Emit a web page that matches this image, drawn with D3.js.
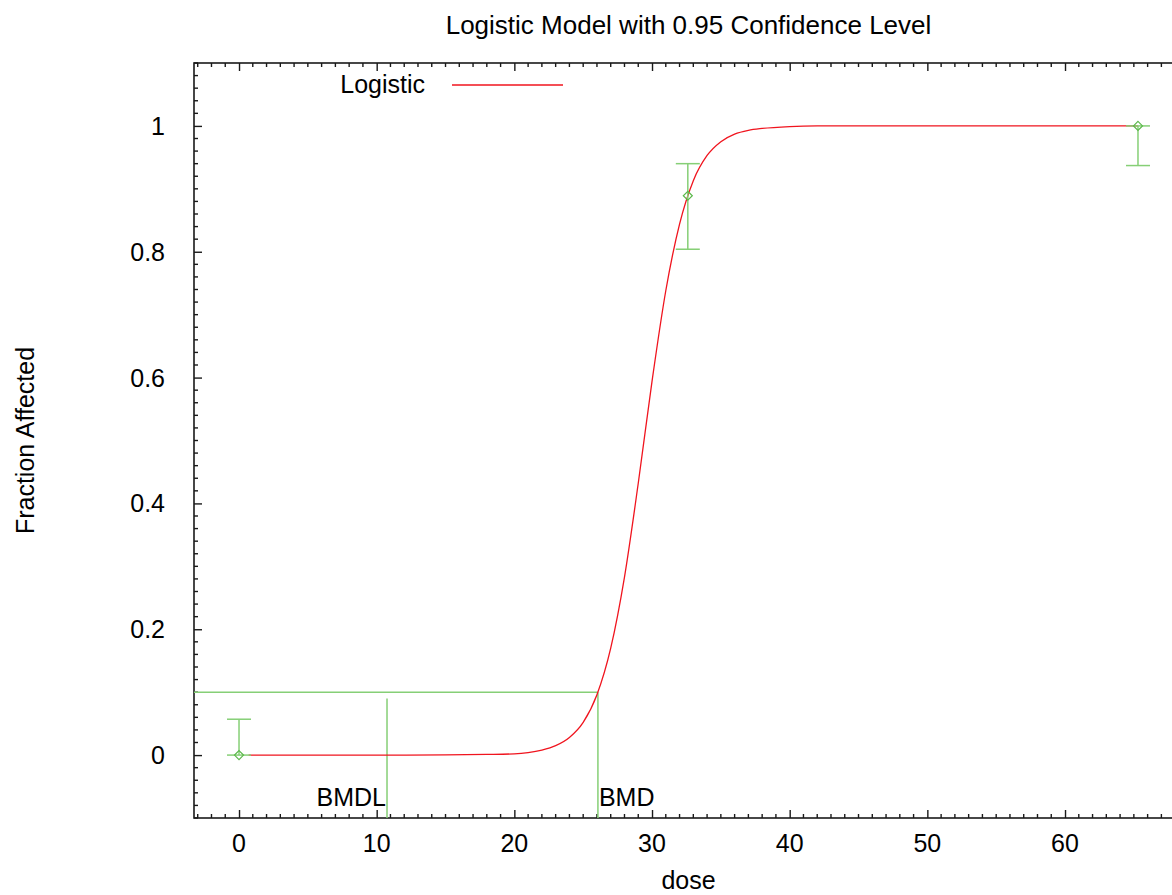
<!DOCTYPE html>
<html>
<head>
<meta charset="utf-8">
<script src="https://cdn.jsdelivr.net/npm/d3@7"></script>
<style>
  body { margin: 0; background: #fff; }
  svg { font-family: "Liberation Sans", Arial, sans-serif; }
</style>
</head>
<body>
<svg id="chart" width="1172" height="895"></svg>
<script>
const width = 1172;
const height = 895;

// observed doses, fractions and their confidence limits
const doses = [0, 32.6, 65.3];
const fractions = [0, 0.889, 1.0];
const lowerLimits = [0, 0.804, 0.937];
const upperLimits = [0.057, 0.940, 1.0];

// fitted logistic curve
const curveDose = [0.7, 5, 10, 15, 18, 20, 21, 22, 23, 24, 25, 26, 27, 28, 29, 30, 31, 32, 33, 34, 35, 36, 37, 38, 40, 42, 45, 50, 60, 65.3];
const curveFrac = [0, 0, 0, 0.0003, 0.001, 0.002, 0.004, 0.008, 0.015, 0.028, 0.052, 0.096, 0.17, 0.283, 0.432, 0.594, 0.738, 0.844, 0.913, 0.953, 0.975, 0.987, 0.993, 0.996, 0.999, 1, 1, 1, 1, 1];

const bmd = 26.07;
const bmdl = 10.75;
const bmr = 0.1;
const bmdlTop = 0.09;

const xTicks = [0, 10, 20, 30, 40, 50, 60];
const yTicks = [0, 0.2, 0.4, 0.6, 0.8, 1];

const plotLeft = 194, plotRight = 1183, plotTop = 63, plotBottom = 818;
const fontSize = 25;

const svg = d3.select('#chart');

const x = d3.scaleLinear()
  .domain([-3.27, 68.57])
  .range([plotLeft, plotRight]);

const y = d3.scaleLinear()
  .domain([-0.1, 1.1])
  .range([plotBottom, plotTop]);

const axisColor = '#1a1a1a';
const green = '#86cf76';
const red = '#f0141e';

// Minor ticks
const xMinor = d3.range(-3, 69, 1).filter(d => d % 10 !== 0);
const yMinor = d3.range(-0.1, 1.1001, 0.02).map(d => +d.toFixed(2)).filter(d => Math.abs(d * 5 - Math.round(d * 5)) > 1e-6);

const bottomAxis = d3.axisTop(x).tickValues(xTicks);
const topAxis = d3.axisBottom(x).tickValues(xTicks);
const leftAxis = d3.axisRight(y).tickValues(yTicks);

function drawAxis(axis, pos, minor, horizontal, dir) {
  const g = svg.append('g').attr('transform', pos);
  g.call(axis.tickSize(8).tickPadding(0));
  g.select('.domain').remove();
  g.selectAll('.tick line').attr('stroke', axisColor).attr('stroke-width', 1.4);
  g.selectAll('.tick text').remove();
  const s = axis.scale();
  g.selectAll('.minor').data(minor).enter().append('line')
    .attr('class', 'minor')
    .attr('stroke', axisColor)
    .attr('stroke-width', 1.4)
    .attr('x1', d => horizontal ? s(d) : 0)
    .attr('x2', d => horizontal ? s(d) : 4)
    .attr('y1', d => horizontal ? 0 : s(d))
    .attr('y2', d => horizontal ? dir * 4 : s(d));
  return g;
}

drawAxis(bottomAxis, `translate(0,${plotBottom})`, xMinor, true, -1);
drawAxis(topAxis, `translate(0,${plotTop})`, xMinor, true, 1);
drawAxis(leftAxis, `translate(${plotLeft},0)`, yMinor, false, 1);

// Frame
svg.append('rect')
  .attr('x', plotLeft).attr('y', plotTop)
  .attr('width', plotRight - plotLeft).attr('height', plotBottom - plotTop)
  .attr('fill', 'none')
  .attr('stroke', axisColor)
  .attr('stroke-width', 1.6);

// Tick labels
svg.append('g').selectAll('text')
  .data(xTicks).enter().append('text')
  .attr('x', d => x(d))
  .attr('y', plotBottom + 34)
  .attr('text-anchor', 'middle')
  .attr('font-size', fontSize)
  .text(d => d);

svg.append('g').selectAll('text')
  .data(yTicks).enter().append('text')
  .attr('x', plotLeft - 29)
  .attr('y', d => y(d) + 9)
  .attr('text-anchor', 'end')
  .attr('font-size', fontSize)
  .text(d => d);

// Titles
svg.append('text')
  .attr('x', (plotLeft + plotRight) / 2)
  .attr('y', 34)
  .attr('text-anchor', 'middle')
  .attr('font-size', 26)
  .text('Logistic Model with 0.95 Confidence Level');

svg.append('text')
  .attr('x', (plotLeft + plotRight) / 2)
  .attr('y', 889)
  .attr('text-anchor', 'middle')
  .attr('font-size', fontSize)
  .text('dose');

svg.append('text')
  .attr('transform', `translate(34,${(plotTop + plotBottom) / 2}) rotate(-90)`)
  .attr('text-anchor', 'middle')
  .attr('font-size', fontSize)
  .text('Fraction Affected');

// BMD / BMDL lines
svg.append('line')
  .attr('x1', plotLeft).attr('x2', x(bmd))
  .attr('y1', y(bmr)).attr('y2', y(bmr))
  .attr('stroke', green).attr('stroke-width', 1.5);

svg.append('line')
  .attr('x1', x(bmd)).attr('x2', x(bmd))
  .attr('y1', y(bmr)).attr('y2', plotBottom)
  .attr('stroke', green).attr('stroke-width', 1.5);

svg.append('line')
  .attr('x1', x(bmdl)).attr('x2', x(bmdl))
  .attr('y1', y(bmdlTop)).attr('y2', plotBottom)
  .attr('stroke', green).attr('stroke-width', 1.5);

svg.append('text')
  .attr('x', x(bmdl) - 1)
  .attr('y', 806)
  .attr('text-anchor', 'end')
  .attr('font-size', fontSize)
  .text('BMDL');

svg.append('text')
  .attr('x', x(bmd) + 1)
  .attr('y', 806)
  .attr('font-size', fontSize)
  .text('BMD');

// Fitted curve
const curve = curveDose.map((d, i) => [d, curveFrac[i]]);
svg.append('path')
  .datum(curve)
  .attr('fill', 'none')
  .attr('stroke', red)
  .attr('stroke-width', 1.3)
  .attr('d', d3.line().x(d => x(d[0])).y(d => y(d[1])).curve(d3.curveMonotoneX));

// Error bars
const bars = svg.append('g').selectAll('g')
  .data(doses).enter().append('g');

bars.append('line')
  .attr('x1', d => x(d)).attr('x2', d => x(d))
  .attr('y1', (d, i) => y(lowerLimits[i])).attr('y2', (d, i) => y(upperLimits[i]))
  .attr('stroke', green).attr('stroke-width', 1.5);

bars.append('line')
  .attr('x1', d => x(d) - 12).attr('x2', d => x(d) + 12)
  .attr('y1', (d, i) => y(lowerLimits[i])).attr('y2', (d, i) => y(lowerLimits[i]))
  .attr('stroke', green).attr('stroke-width', 1.5);

bars.append('line')
  .attr('x1', d => x(d) - 12).attr('x2', d => x(d) + 12)
  .attr('y1', (d, i) => y(upperLimits[i])).attr('y2', (d, i) => y(upperLimits[i]))
  .attr('stroke', green).attr('stroke-width', 1.5);

bars.append('path')
  .attr('transform', (d, i) => `translate(${x(d)},${y(fractions[i])})`)
  .attr('d', 'M0,-4.5L4.5,0L0,4.5L-4.5,0Z')
  .attr('fill', 'none')
  .attr('stroke', '#5bb84b')
  .attr('stroke-width', 1.2);

// Legend
svg.append('text')
  .attr('x', 425)
  .attr('y', 93)
  .attr('text-anchor', 'end')
  .attr('font-size', fontSize)
  .text('Logistic');

svg.append('line')
  .attr('x1', 452).attr('x2', 563)
  .attr('y1', 85).attr('y2', 85)
  .attr('stroke', red).attr('stroke-width', 1.3);
</script>
</body>
</html>
